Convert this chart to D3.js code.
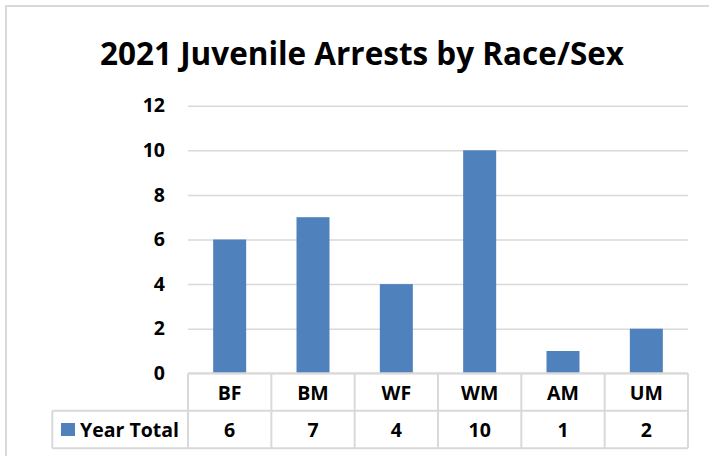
<!DOCTYPE html>
<html>
<head>
<meta charset="utf-8">
<script src="https://cdn.jsdelivr.net/npm/d3@7"></script>
<style>
  html, body { margin: 0; padding: 0; background: #fff; }
  svg { display: block; }
  text { font-family: "Open Sans", Lato, "Liberation Sans", sans-serif; font-weight: bold; fill: #000; }
</style>
</head>
<body>
<svg id="chart" width="709" height="456"></svg>
<script>
// Chart data
const title = "2021 Juvenile Arrests by Race/Sex";
const categories = ["BF", "BM", "WF", "WM", "AM", "UM"];
const seriesName = "Year Total";
const yearTotal = [6, 7, 4, 10, 1, 2];
const yTicks = [0, 2, 4, 6, 8, 10, 12];

const barColor = "#4f81bd";
const lineColor = "#d9d9d9";
const labelSize = 19.5;

const svg = d3.select("#chart");

// Outer chart frame
svg.append("rect")
  .attr("x", 6).attr("y", 6)
  .attr("width", 720).attr("height", 470)
  .attr("fill", "#fff")
  .attr("stroke", lineColor)
  .attr("stroke-width", 2);

// Title
svg.append("text")
  .attr("x", 362).attr("y", 65)
  .attr("text-anchor", "middle")
  .attr("font-size", 33)
  .attr("textLength", 524)
  .attr("lengthAdjust", "spacingAndGlyphs")
  .text(title);

const plotLeft = 188, plotRight = 688;
const plotTop = 105.7, plotBottom = 373.3;

const x = d3.scaleBand().domain(categories).range([plotLeft, plotRight]).padding(0);
const y = d3.scaleLinear().domain([0, 12]).range([plotBottom, plotTop]);

// Gridlines and y labels via axis
const yAxis = svg.append("g")
  .attr("transform", `translate(${plotLeft},0)`)
  .call(d3.axisLeft(y).tickValues(yTicks).tickSize(-(plotRight - plotLeft)).tickPadding(23).tickFormat(d3.format("d")));
yAxis.select(".domain").remove();
yAxis.selectAll(".tick line")
  .attr("stroke", lineColor)
  .attr("stroke-width", 1.5);
yAxis.selectAll(".tick text")
  .attr("font-size", labelSize)
  .attr("font-family", "'Open Sans', Lato, sans-serif")
  .attr("font-weight", "bold")
  .attr("fill", "#000");

// Bars
const barW = x.bandwidth() * 0.396;
svg.append("g").selectAll("rect")
  .data(categories.map((c, i) => ({ c, v: yearTotal[i] })))
  .join("rect")
  .attr("x", d => x(d.c) + (x.bandwidth() - barW) / 2)
  .attr("y", d => y(d.v))
  .attr("width", barW)
  .attr("height", d => y(0) - y(d.v))
  .attr("fill", barColor);

// Data table under the plot
const row1Top = plotBottom, row2Top = 410.7, tableBottom = 448.3, tableLeft = 52.3;
const tbl = svg.append("g")
  .attr("stroke", lineColor)
  .attr("stroke-width", 2)
  .attr("fill", "none");

tbl.append("line").attr("x1", plotLeft).attr("x2", plotRight).attr("y1", row1Top).attr("y2", row1Top);
tbl.append("line").attr("x1", tableLeft).attr("x2", plotRight).attr("y1", row2Top).attr("y2", row2Top);
tbl.append("line").attr("x1", tableLeft).attr("x2", plotRight).attr("y1", tableBottom).attr("y2", tableBottom);
tbl.append("line").attr("x1", tableLeft).attr("x2", tableLeft).attr("y1", row2Top).attr("y2", tableBottom);
const bounds = categories.map(c => x(c)).concat([plotRight]);
tbl.selectAll("line.v")
  .data(bounds)
  .join("line")
  .attr("class", "v")
  .attr("x1", d => d).attr("x2", d => d)
  .attr("y1", row1Top).attr("y2", tableBottom);

// Category labels
svg.append("g").selectAll("text")
  .data(categories)
  .join("text")
  .attr("x", d => x(d) + x.bandwidth() / 2)
  .attr("y", (row1Top + row2Top) / 2 + 1)
  .attr("dy", "0.35em")
  .attr("text-anchor", "middle")
  .attr("font-size", labelSize)
  .text(d => d);

// Value labels
svg.append("g").selectAll("text")
  .data(categories.map((c, i) => ({ c, v: yearTotal[i] })))
  .join("text")
  .attr("x", d => x(d.c) + x.bandwidth() / 2)
  .attr("y", (row2Top + tableBottom) / 2 + 1)
  .attr("dy", "0.35em")
  .attr("text-anchor", "middle")
  .attr("font-size", labelSize)
  .text(d => d.v);

// Legend key in the table
svg.append("rect")
  .attr("x", 61).attr("y", 423)
  .attr("width", 14).attr("height", 13)
  .attr("fill", barColor);
svg.append("text")
  .attr("x", 80)
  .attr("y", (row2Top + tableBottom) / 2 + 1)
  .attr("dy", "0.35em")
  .attr("font-size", labelSize)
  .attr("textLength", 99)
  .attr("lengthAdjust", "spacingAndGlyphs")
  .text(seriesName);
</script>
</body>
</html>
